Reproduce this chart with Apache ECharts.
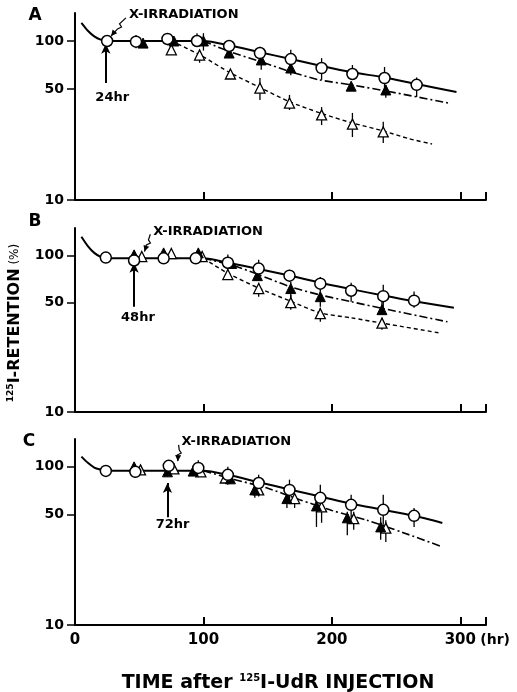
<!DOCTYPE html>
<html><head><meta charset="utf-8">
<script src="https://cdn.jsdelivr.net/npm/echarts@6/dist/echarts.min.js"></script>
<style>html,body{margin:0;padding:0;background:#fff}#c{width:517px;height:692px}</style>
</head><body><div id="c"></div>
<script>
// ---------- data ----------
const xTicks = [0, 100, 200, 300];
const yTicks = [10, 50, 100];
const panelNames = ['A', 'B', 'C'];
const irrLabels = ['24hr', '48hr', '72hr'];

// rows: [hours, retention %, errLow, errHigh]
const A_circle = [[25,100],[47.5,99,90,109],[72,103,94,112],[95,100,93,112],[120,93],[144,84,76,92],[168,77,70.6,88],[192,67.6,57,78],[216,62,57,70.6],[241,58.5,49,68.6],[266,53,44.5,59]];
const A_filled = [[53,97],[77,100],[100,100,87,112],[120,84],[145,76,66,82],[168,67.6,61,73],[215,52],[242,49.2,44,53]];
const A_open   = [[75,88,82,106],[97,81.6,73,88],[121,62],[144,50.6,42.5,58.5],[167,40.7,36.8,45.8],[192,34.3,29.6,38.4],[216,30,24.9,35.3],[240,26.8,22.8,31]];
const A_solid   = [[5,130],[10,116],[15,107],[20,102],[25,100],[100,100],[120,94],[144,85],[168,77],[192,69.6],[216,63.5],[241,59],[266,53.6],[297,47.8]];
const A_dashdot = [[100,100],[120,86],[145,74],[168,64],[190,57],[215,53],[242,48.5],[291,40.7]];
const A_dashed  = [[75,100],[97,82],[121,63],[144,51],[167,41.5],[192,35],[216,30.5],[240,27.2],[260,24.3],[278,22.5]];

const B_circle = [[24,97],[46,93],[69,96],[94,96],[119,90,81.3,101.5],[143,82.5,73,94],[167,74.4,68,81],[191,66.1,58.8,73],[215,59.6,50.7,67],[240,55,46.4,65],[264,51.5,46.4,59]];
const B_filled = [[46,101],[69,104],[96,104],[122,89],[142,74.4],[168,61.5,53.8,68],[191,54.6,47,58.8],[239,45.1,43,50.7]];
const B_open   = [[52,98.5],[75,103],[99,98.5],[119,75.6,70,81],[143,61.5,54.6,67],[168,50,45,56],[191,42.5,37.7,46.4],[239,37,33.6,40]];
const B_solid   = [[5,132],[10,115],[15,104],[20,98],[24,96],[100,96],[119,90],[143,82],[167,74.5],[191,67],[215,61],[240,55.5],[264,51],[295,46.4]];
const B_dashdot = [[100,96],[122,87],[142,76],[168,63],[191,56],[215,50.7],[239,46],[290,37.7]];
const B_dashed  = [[100,96],[119,77],[143,62],[168,51],[191,43],[215,40],[239,37],[284,32]];

const C_circle = [[24,94.3],[47,93,85,103],[73,101.5,93,110],[96,98.5,86,110],[119,89,77,100],[143,79,71.5,89],[167,71.5,61.8,83],[191,63.7,53.5,77],[215,57.5,47.6,66.5],[240,53.5,43,66.5],[264,49,41.7,55]];
const C_filled = [[46,100],[72,93],[92,94],[121,84],[140,71.5,63.7,79],[165,63,55,68.4],[188,56.6,41.7,60],[212,47.6,37,52],[238,41.7,34.6,48]];
const C_open   = [[51,95.7],[77,97],[98,93],[117,85],[143,71.5,65,77],[171,63,55,66.5],[192,55.8,44.3,59],[217,47,40,52],[242,41,33.5,46]];
const C_solid   = [[5,116],[10,106],[15,99],[20,96],[24,94.5],[100,94.5],[119,89],[143,80],[167,72],[191,65],[215,58.5],[240,53.5],[264,49],[286,44.2]];
const C_dashdot = [[100,94.5],[122,84],[149,73.7],[175,62],[200,53],[227,46],[255,38.5],[286,31.2]];

// annotation anchors (data coords)
const arrowLines = [[[24,54.5],[24,96]], [[46,47],[46,90]], [[72,48],[72,79]]];
const hrLabelPos = [[29,44],[49,40],[76,43]];
const irrTextPos = [[42,146],[61,143],[83,144]];
const irrTipPos  = [[25,100],[51,98.5],[77,101]];

// ---------- layout ----------
const grids = [
  {left:75, top:13, width:411, height:187},
  {left:75, top:228, width:411, height:184},
  {left:75, top:439, width:411, height:186}
];
const FONT = 'DejaVu Sans';

const panels = [
  {circle:A_circle, filled:A_filled, open:A_open, solid:A_solid, dashdot:A_dashdot, dashed:A_dashed},
  {circle:B_circle, filled:B_filled, open:B_open, solid:B_solid, dashdot:B_dashdot, dashed:B_dashed},
  {circle:C_circle, filled:C_filled, open:C_open, solid:C_solid, dashdot:C_dashdot, dashed:null}
];

const xAxes = grids.map((g,i)=>({
  type:'value', gridIndex:i, min:0, max:320, interval:100,
  axisLine:{show:true, lineStyle:{color:'#000', width:2}},
  axisTick:{show:true, inside:true, length:8, lineStyle:{color:'#000', width:2}},
  axisLabel:{show:i===2, color:'#000', fontFamily:FONT, fontWeight:'bold', fontSize:15, margin:8,
    customValues: xTicks},
  splitLine:{show:false}
}));
const yAxes = grids.map((g,i)=>({
  type:'log', logBase:10, gridIndex:i, min:10, max:150,
  axisLine:{show:true, lineStyle:{color:'#000', width:2}},
  axisTick:{show:true, inside:false, length:8, lineStyle:{color:'#000', width:1.5}, customValues:yTicks},
  axisLabel:{show:true, color:'#000', fontFamily:FONT, fontWeight:'bold', fontSize:14, margin:11, customValues:yTicks},
  splitLine:{show:false}, minorTick:{show:false}
}));

function errRender(params, api){
  const x=api.value(0), lo=api.value(2), hi=api.value(3);
  const p1=api.coord([x,lo]), p2=api.coord([x,hi]);
  return {type:'line', shape:{x1:p1[0],y1:p1[1],x2:p2[0],y2:p2[1]}, style:{stroke:'#000', lineWidth:1.3}};
}

const series = [];
panels.forEach((p,i)=>{
  const lineBase = {type:'line', xAxisIndex:i, yAxisIndex:i, showSymbol:false, smooth:0.25, z:1, silent:true};
  series.push(Object.assign({}, lineBase, {data:p.solid, lineStyle:{color:'#000', width:2}}));
  series.push(Object.assign({}, lineBase, {data:p.dashdot, lineStyle:{color:'#000', width:1.6, type:[8,3,2,3]}}));
  if (p.dashed) series.push(Object.assign({}, lineBase, {data:p.dashed, lineStyle:{color:'#000', width:1.4, type:[4,3]}}));
  const errs = [].concat(p.circle, p.filled, p.open).filter(r=>r.length===4);
  series.push({type:'custom', xAxisIndex:i, yAxisIndex:i, renderItem:errRender, data:errs, z:2, silent:true,
    encode:{x:0, y:1}});
  series.push({type:'scatter', xAxisIndex:i, yAxisIndex:i, data:p.open.map(r=>[r[0],r[1]]), symbol:'triangle', symbolSize:10,
    itemStyle:{color:'#fff', borderColor:'#000', borderWidth:1.3, opacity:1}, z:3, silent:true});
  series.push({type:'scatter', xAxisIndex:i, yAxisIndex:i, data:p.filled.map(r=>[r[0],r[1]]), symbol:'triangle', symbolSize:10,
    itemStyle:{color:'#000', borderColor:'#000', borderWidth:1, opacity:1}, z:4, silent:true});
  series.push({type:'scatter', xAxisIndex:i, yAxisIndex:i, data:p.circle.map(r=>[r[0],r[1]]), symbol:'circle', symbolSize:11,
    itemStyle:{color:'#fff', borderColor:'#000', borderWidth:1.5, opacity:1}, z:5, silent:true,
    markLine:{silent:true, symbol:['none','arrow'], symbolSize:[7,10], label:{show:false},
      lineStyle:{color:'#000', width:2, type:'solid'},
      data:[[{coord:arrowLines[i][0]},{coord:arrowLines[i][1]}]]}});
});

const chart = echarts.init(document.getElementById('c'), null, {renderer:'canvas'});
chart.setOption({
  animation:false,
  backgroundColor:'#fff',
  grid:grids.map(g=>Object.assign({containLabel:false}, g)),
  xAxis:xAxes, yAxis:yAxes, series:series
});

// ---------- annotations ----------
const graphics = [];
const panelLetterPos = [[35,16],[35,222],[29,442]];
panelNames.forEach((n,i)=>{
  graphics.push({type:'text', x:panelLetterPos[i][0], y:panelLetterPos[i][1],
    style:{text:n, font:'bold 17px '+FONT, fill:'#000', textAlign:'center', textVerticalAlign:'middle'}});
  const hp = chart.convertToPixel({gridIndex:i}, hrLabelPos[i]);
  graphics.push({type:'text', x:hp[0], y:hp[1],
    style:{text:irrLabels[i], font:'bold 13px '+FONT, fill:'#000', textAlign:'center', textVerticalAlign:'middle'}});
  const tp = chart.convertToPixel({gridIndex:i}, irrTextPos[i]);
  graphics.push({type:'text', x:tp[0], y:tp[1],
    style:{text:'X-IRRADIATION', font:'bold 13px '+FONT, fill:'#000', textAlign:'left', textVerticalAlign:'middle'}});
  const tip0 = chart.convertToPixel({gridIndex:i}, irrTipPos[i]);
  const tip = [tip0[0]+4, tip0[1]-5];
  const st = [tp[0]-3, tp[1]+3];
  const mx = (st[0]+tip[0])/2, my = (st[1]+tip[1])/2;
  graphics.push({type:'polyline', shape:{points:[st,[mx+1,my-3],[mx+3,my],[mx-1,my+2],tip]},
    style:{stroke:'#000', lineWidth:1.2, fill:null}});
  const ang = Math.atan2(tip[1]-my, tip[0]-mx);
  const L=6, W=3;
  const bx = tip[0]-L*Math.cos(ang), by = tip[1]-L*Math.sin(ang);
  graphics.push({type:'polygon', shape:{points:[tip,[bx+W*Math.sin(ang), by-W*Math.cos(ang)],[bx-W*Math.sin(ang), by+W*Math.cos(ang)]]},
    style:{fill:'#000'}});
});
// (hr) unit
const p300 = chart.convertToPixel({gridIndex:2}, [300,10]);
graphics.push({type:'text', x:p300[0]+20, y:p300[1]+15,
  style:{text:'(hr)', font:'bold 14px '+FONT, fill:'#000', textAlign:'left', textVerticalAlign:'middle'}});
// axis titles
graphics.push({type:'text', x:15, y:323, rotation:Math.PI/2,
  style:{text:'{s|125}{b|I-RETENTION}{p| (%)}', fill:'#000', textAlign:'center', textVerticalAlign:'middle',
    rich:{s:{fontSize:9, fontFamily:FONT, fontWeight:'bold', verticalAlign:'top', lineHeight:18},
          b:{fontSize:16, fontFamily:FONT, fontWeight:'bold', lineHeight:18},
          p:{fontSize:12, fontFamily:FONT, lineHeight:18}}}});
graphics.push({type:'text', x:278, y:683,
  style:{text:'{b|TIME after }{s|125}{b|I-UdR INJECTION}', fill:'#000', textAlign:'center', textVerticalAlign:'middle',
    rich:{s:{fontSize:10, fontFamily:FONT, fontWeight:'bold', verticalAlign:'top', lineHeight:20},
          b:{fontSize:19, fontFamily:FONT, fontWeight:'bold', lineHeight:20}}}});
chart.setOption({graphic:graphics});
</script>
</body></html>
